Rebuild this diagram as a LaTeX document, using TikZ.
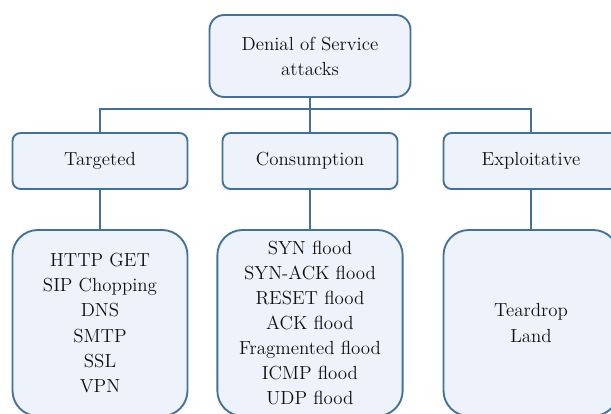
\documentclass[tikz,border=0pt]{standalone}
\definecolor{boxfill}{HTML}{EEF2FA}
\definecolor{boxline}{HTML}{41719C}
\definecolor{txt}{HTML}{111111}
\begin{document}
\begin{tikzpicture}[x=0.75pt,y=-0.75pt,
  box/.style={draw=boxline,fill=boxfill,line width=1.4pt,text=txt,
    align=center,font=\fontsize{14.2}{18.8}\selectfont,inner sep=0pt},
  rootbox/.style={box,rounded corners=11pt,minimum width=150.75pt,minimum height=61.5pt},
  catbox/.style={box,rounded corners=6pt,minimum width=131.25pt,minimum height=42pt},
  listbox/.style={box,rounded corners=19pt,minimum width=131.25pt,minimum height=139.5pt},
  link/.style={draw=boxline,line width=1.4pt}]
\useasboundingbox (0,0) rectangle (611,414);
\clip (0,0) rectangle (611,414);

% root of the tree
\node[rootbox] (root) at (310,56) {Denial of Service\\attacks};

% three categories
\node[catbox] (tgt) at (100,161) {Targeted};
\node[catbox] (con) at (310,161) {Consumption};
\node[catbox] (exp) at (531,161) {Exploitative};

% attack lists
\node[listbox] (tgtl) at (100,323) {HTTP GET\\SIP Chopping\\DNS\\SMTP\\SSL\\VPN};
\node[listbox,minimum width=139pt] (conl) at (310,323) {SYN flood\\SYN-ACK flood\\RESET flood\\ACK flood\\Fragmented flood\\ICMP flood\\UDP flood};
\node[listbox] (expl) at (531,323) {Teardrop\\Land};

% connectors
\coordinate (bus) at (310,109);
\draw[link] (root.south) -- (bus);
\draw[link] (tgt.north) |- (bus) -| (exp.north);
\draw[link] (bus -| con.north) -- (con.north);
\draw[link] (tgt.south) -- (tgtl.north);
\draw[link] (con.south) -- (conl.north);
\draw[link] (exp.south) -- (expl.north);
\end{tikzpicture}
\end{document}
